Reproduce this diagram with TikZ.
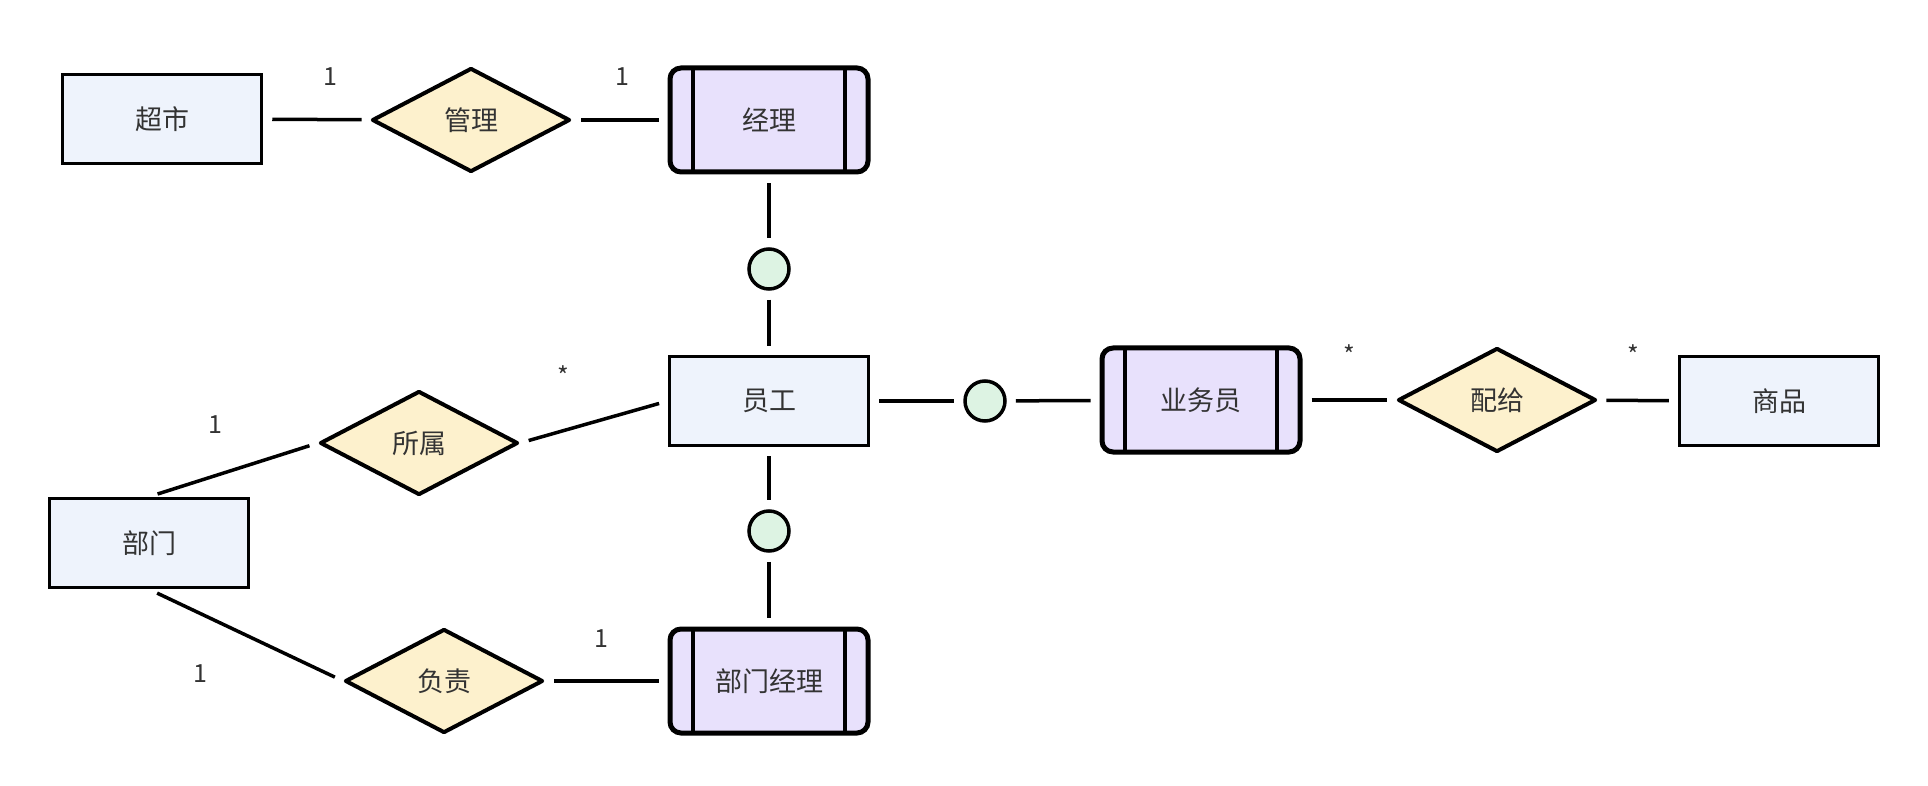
\documentclass[tikz,border=0pt]{standalone}
\usepackage{fontspec}
\setmainfont{Noto Sans CJK SC}
\usetikzlibrary{shapes.geometric}
\definecolor{entfill}{HTML}{EEF3FC}
\definecolor{relfill}{HTML}{FDF1CD}
\definecolor{weakfill}{HTML}{E8E1FC}
\definecolor{isafill}{HTML}{DDF3E3}
\definecolor{txt}{HTML}{333333}
\begin{document}
\begin{tikzpicture}[x=1pt,y=-1pt,
  every node/.style={text=txt, font=\fontsize{27}{31}\selectfont},
  entity/.style={draw=black, line width=3.5pt, fill=entfill, minimum width=199pt, minimum height=89pt, inner sep=0pt},
  rel/.style={diamond, draw=black, line width=4pt, line join=round, fill=relfill, minimum width=198pt, minimum height=104pt, inner sep=0pt},
  weak/.style={draw=black, line width=5pt, rounded corners=11pt, fill=weakfill, minimum width=198pt, minimum height=104pt, inner sep=0pt,
    path picture={
      \draw[line width=4pt] ([xshift=23pt]path picture bounding box.north west) -- ([xshift=23pt]path picture bounding box.south west);
      \draw[line width=4pt] ([xshift=-23pt]path picture bounding box.north east) -- ([xshift=-23pt]path picture bounding box.south east);
    }},
  isa/.style={circle, draw=black, line width=3.5pt, fill=isafill, minimum size=40pt, inner sep=0pt},
  conn/.style={draw=black, line width=3.5pt, shorten >=9pt, shorten <=9pt},
  card/.style={font=\fontsize{25}{29}\selectfont, inner sep=0pt}
]
\useasboundingbox (0,0) rectangle (1928,786);

% entities
\node[entity] (cs) at (162,119) {超市};
\node[rel] (gl) at (471,120) {管理};
\node[weak] (jl) at (769,120) {经理};
\node[isa] (c1) at (769,269) {};
\node[entity] (yg) at (769,401) {员工};
\node[isa] (c2) at (985,401) {};
\node[weak] (ywy) at (1201,400) {业务员};
\node[rel] (pg) at (1497,400) {配给};
\node[entity] (sp) at (1779,401) {商品};
\node[rel] (ss) at (419,443) {所属};
\node[entity] (bm) at (149,543) {部门};
\node[isa] (c3) at (769,531) {};
\node[rel] (fz) at (444,681) {负责};
\node[weak] (bmjl) at (769,681) {部门经理};

% connectors
\draw[conn] (cs) -- (gl);
\draw[conn] (gl) -- (jl);
\draw[conn] (jl) -- (c1);
\draw[conn] (c1) -- (yg);
\draw[conn] (yg) -- (c2);
\draw[conn] (c2) -- (ywy);
\draw[conn] (ywy) -- (pg);
\draw[conn] (pg) -- (sp);
\draw[conn] (yg) -- (c3);
\draw[conn] (c3) -- (bmjl);
\draw[conn] (bm.north) -- (ss.west);
\draw[conn] (ss.east) -- (yg.west);
\draw[conn] (bm.south) -- (fz.west);
\draw[conn] (fz) -- (bmjl);

% cardinalities
\node[card] (l1) at (330,77) {1};
\node[card] (l2) at (622,77) {1};
\node[card] (l3) at (1349,355) {*};
\node[card] (l4) at (1633,355) {*};
\node[card] (l5) at (563,376) {*};
\node[card] (l6) at (215,425) {1};
\node[card] (l7) at (200,674) {1};
\node[card] (l8) at (601,639) {1};
\end{tikzpicture}
\end{document}
